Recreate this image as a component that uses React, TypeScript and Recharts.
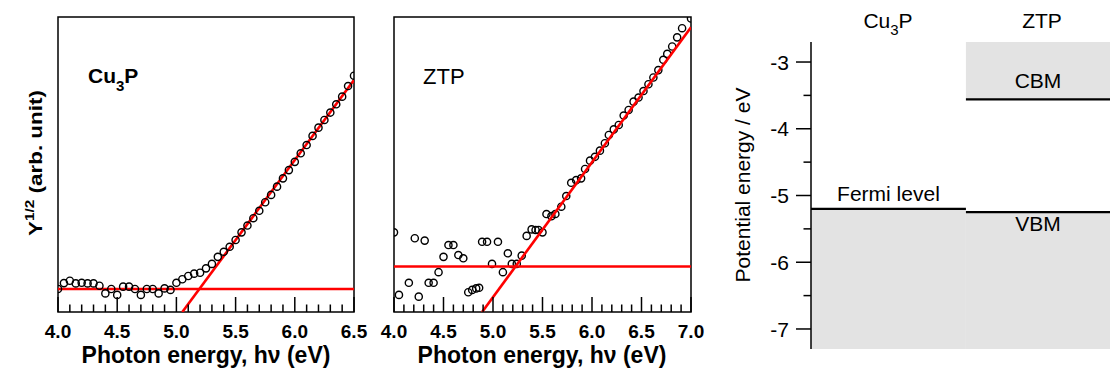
import React from 'react';
import {
  ComposedChart,
  Scatter,
  Line,
  XAxis,
  YAxis,
  ReferenceArea,
  ReferenceLine,
} from 'recharts';

const FONT = "'Liberation Sans', Arial, Helvetica, sans-serif";
const RED = '#ff0000';
const BAND_GRAY = '#e3e3e3';

// ---- Cu3P photoelectron yield, Y^1/2 (arb. unit) vs photon energy (eV)
const cu3pPhotonEnergy = [
  4.0, 4.05, 4.1, 4.15, 4.2, 4.25, 4.3, 4.35, 4.4, 4.45, 4.5, 4.55, 4.6, 4.65, 4.7, 4.75, 4.8,
  4.85, 4.9, 4.95, 5.0, 5.05, 5.1, 5.15, 5.2, 5.25, 5.3, 5.35, 5.4, 5.45, 5.5, 5.55, 5.6, 5.65,
  5.7, 5.75, 5.8, 5.85, 5.9, 5.95, 6.0, 6.05, 6.1, 6.15, 6.2, 6.25, 6.3, 6.35, 6.4, 6.45, 6.5,
];
const cu3pYieldRoot = [
  7.8, 9.8, 10.6, 9.7, 9.9, 9.7, 9.7, 8.9, 6.3, 7.8, 5.8, 8.6, 8.6, 7.8, 5.8, 7.8, 7.8,
  6.3, 8.0, 7.5, 9.9, 11.1, 12.2, 13.0, 13.3, 14.8, 16.3, 18.7, 20.4, 22.1, 24.4, 27.0, 29.3, 31.8,
  34.3, 37.2, 39.7, 42.5, 45.3, 48.1, 50.9, 53.8, 56.6, 59.7, 62.5, 65.1, 67.6, 70.4, 73.0, 76.6, 80.1,
];
const cu3pBaselineEnergy = [4.0, 6.5];
const cu3pBaselineValue = [7.8, 7.8];
const cu3pFitEnergy = [5.05, 6.5];
const cu3pFitValue = [0, 78.6];
const cu3pAxisTicks = [
  4.0, 4.1, 4.2, 4.3, 4.4, 4.5, 4.6, 4.7, 4.8, 4.9, 5.0, 5.1, 5.2, 5.3, 5.4, 5.5, 5.6, 5.7, 5.8,
  5.9, 6.0, 6.1, 6.2, 6.3, 6.4, 6.5,
];
const cu3pLabelledTicks = [4.0, 4.5, 5.0, 5.5, 6.0, 6.5];

// ---- ZTP photoelectron yield
const ztpPhotonEnergy = [
  4.0, 4.05, 4.15, 4.21, 4.25, 4.31, 4.35, 4.4, 4.45, 4.5, 4.55, 4.6, 4.65, 4.7, 4.75, 4.79,
  4.83, 4.86, 4.89, 4.94, 4.99, 5.05, 5.1, 5.15, 5.19, 5.24, 5.29, 5.34, 5.39, 5.43, 5.46, 5.5,
  5.54, 5.59, 5.63, 5.69, 5.74, 5.79, 5.84, 5.89, 5.93, 5.98, 6.03, 6.08, 6.13, 6.17, 6.22, 6.27,
  6.32, 6.37, 6.42, 6.47, 6.52, 6.57, 6.62, 6.67, 6.72, 6.76, 6.81, 6.86, 6.91, 7.0,
];
const ztpYieldRoot = [
  27.0, 5.8, 9.9, 25.0, 5.2, 24.2, 9.9, 9.9, 13.5, 18.7, 22.7, 22.7, 19.3, 18.2, 6.7, 7.5,
  8.0, 8.2, 23.8, 23.8, 16.3, 23.8, 13.5, 19.9, 16.3, 16.3, 19.1, 25.8, 28.0, 27.8, 27.8, 27.0,
  33.2, 32.5, 33.2, 35.7, 39.3, 43.8, 44.7, 45.3, 48.5, 51.3, 52.6, 54.7, 57.2, 60.0, 61.9, 63.4,
  66.6, 68.5, 71.3, 72.7, 74.9, 77.2, 79.5, 82.0, 85.5, 87.5, 90.0, 93.1, 96.2, 99.5,
];
const ztpBaselineEnergy = [4.0, 7.0];
const ztpBaselineValue = [15.4, 15.4];
const ztpFitEnergy = [4.89, 7.0];
const ztpFitValue = [0, 96.5];
const ztpAxisTicks = [
  4.0, 4.1, 4.2, 4.3, 4.4, 4.5, 4.6, 4.7, 4.8, 4.9, 5.0, 5.1, 5.2, 5.3, 5.4, 5.5, 5.6, 5.7, 5.8,
  5.9, 6.0, 6.1, 6.2, 6.3, 6.4, 6.5, 6.6, 6.7, 6.8, 6.9, 7.0,
];
const ztpLabelledTicks = [4.0, 4.5, 5.0, 5.5, 6.0, 6.5, 7.0];

const yieldRange = [0, 100];

// ---- Energy level diagram (eV vs vacuum)
const energyDomain = [-7.3, -2.7];
const energyTicks = [-7, -6.5, -6, -5.5, -5, -4.5, -4, -3.5, -3];
const energyLabelledTicks = [-7, -6, -5, -4, -3];
const cu3pColumn = [0, 1];
const ztpColumn = [1, 2];
const columnDomain = [0, 1.93];
const cu3pFermiLevel = -5.2;
const ztpCbm = -3.56;
const ztpVbm = -5.25;

const toRows = (xs: number[], ys: number[]) => xs.map((x, i) => ({ x, y: ys[i] }));

const isIn = (list: number[], v: number) => list.some((m) => Math.abs(m - v) < 1e-6);

const makeBottomTick = (labelled: number[]) => (props: any) => {
  const { x, y, payload } = props;
  const v = Number(payload.value);
  const major = isIn(labelled, v);
  return (
    <g>
      <line x1={x} x2={x} y1={y} y2={y - (major ? 15 : 7.5)} stroke="#000" strokeWidth={1.5} />
      {major && (
        <text
          x={x}
          y={y + 26}
          textAnchor="middle"
          fontFamily={FONT}
          fontWeight="bold"
          fontSize={19}
          fill="#000"
        >
          {v.toFixed(1)}
        </text>
      )}
    </g>
  );
};

const energyTick = (props: any) => {
  const { x, y, payload } = props;
  const v = Number(payload.value);
  const major = isIn(energyLabelledTicks, v);
  return (
    <g>
      <line x1={x - (major ? 15 : 7.5)} x2={x} y1={y} y2={y} stroke="#000" strokeWidth={1.5} />
      {major && (
        <text x={x - 22} y={y} dy="0.36em" textAnchor="end" fontFamily={FONT} fontSize={21} fill="#000">
          {String(v)}
        </text>
      )}
    </g>
  );
};

const ring = (props: any) => {
  const { cx, cy } = props;
  if (cx == null || cy == null) return <g />;
  return <circle cx={cx} cy={cy} r={3.6} fill="none" stroke="#000" strokeWidth={1.4} />;
};

type PanelProps = {
  left: number;
  width: number;
  marginLeft: number;
  marginRight: number;
  rows: { x: number; y: number }[];
  domain: number[];
  ticks: number[];
  labelled: number[];
  baseline: { x: number; y: number }[];
  fit: { x: number; y: number }[];
  linesOnTop: boolean;
};

function YieldPanel(p: PanelProps) {
  const z = p.linesOnTop ? 700 : 400;
  const lines = [
    <Line
      key="baseline"
      data={p.baseline}
      dataKey="y"
      type="linear"
      stroke={RED}
      strokeWidth={2.6}
      dot={false}
      activeDot={false}
      isAnimationActive={false}
      zIndex={z}
    />,
    <Line
      key="fit"
      data={p.fit}
      dataKey="y"
      type="linear"
      stroke={RED}
      strokeWidth={2.6}
      dot={false}
      activeDot={false}
      isAnimationActive={false}
      zIndex={z}
    />,
  ];
  return (
    <div style={{ position: 'absolute', left: p.left, top: 0 }}>
      <ComposedChart
        width={p.width}
        height={372}
        margin={{ top: 17, right: p.marginRight, bottom: 0, left: p.marginLeft }}
      >
        <XAxis
          type="number"
          dataKey="x"
          domain={p.domain}
          ticks={p.ticks}
          interval={0}
          tick={makeBottomTick(p.labelled)}
          tickLine={false}
          axisLine={false}
          tickSize={0}
          tickMargin={0}
          height={60}
          allowDataOverflow
        />
        <YAxis type="number" dataKey="y" domain={yieldRange} hide allowDataOverflow />
        <ReferenceArea
          x1={p.domain[0]}
          x2={p.domain[1]}
          y1={yieldRange[0]}
          y2={yieldRange[1]}
          fill="none"
          stroke="#000"
          strokeWidth={1.5}
          ifOverflow="visible"
        />
        {!p.linesOnTop && lines}
        <Scatter data={p.rows} dataKey="y" shape={ring} isAnimationActive={false} />
        {p.linesOnTop && lines}
      </ComposedChart>
    </div>
  );
}

export default function App() {
  return (
    <div style={{ position: 'absolute', left: 0, top: 0, width: 1110, height: 372, background: '#fff' }}>
      <YieldPanel
        left={0}
        width={370}
        marginLeft={58}
        marginRight={16}
        rows={toRows(cu3pPhotonEnergy, cu3pYieldRoot)}
        domain={[4.0, 6.5]}
        ticks={cu3pAxisTicks}
        labelled={cu3pLabelledTicks}
        baseline={toRows(cu3pBaselineEnergy, cu3pBaselineValue)}
        fit={toRows(cu3pFitEnergy, cu3pFitValue)}
        linesOnTop={false}
      />
      <YieldPanel
        left={370}
        width={340}
        marginLeft={24}
        marginRight={19}
        rows={toRows(ztpPhotonEnergy, ztpYieldRoot)}
        domain={[4.0, 7.0]}
        ticks={ztpAxisTicks}
        labelled={ztpLabelledTicks}
        baseline={toRows(ztpBaselineEnergy, ztpBaselineValue)}
        fit={toRows(ztpFitEnergy, ztpFitValue)}
        linesOnTop={true}
      />

      <div style={{ position: 'absolute', left: 720, top: 0 }}>
        <ComposedChart width={390} height={372} margin={{ top: 42, right: 0, bottom: 23, left: 31 }}>
          <XAxis type="number" dataKey="x" domain={columnDomain} hide allowDataOverflow />
          <YAxis
            type="number"
            domain={energyDomain}
            ticks={energyTicks}
            interval={0}
            width={60}
            tick={energyTick}
            tickLine={false}
            tickSize={0}
            tickMargin={0}
            axisLine={{ stroke: '#000', strokeWidth: 1.5 }}
            allowDataOverflow
          />
          <ReferenceArea
            x1={cu3pColumn[0]}
            x2={cu3pColumn[1]}
            y1={energyDomain[0]}
            y2={cu3pFermiLevel}
            fill={BAND_GRAY}
            fillOpacity={1}
            stroke="none"
            ifOverflow="hidden"
          />
          <ReferenceArea
            x1={ztpColumn[0]}
            x2={ztpColumn[1]}
            y1={ztpCbm}
            y2={energyDomain[1]}
            fill={BAND_GRAY}
            fillOpacity={1}
            stroke="none"
            ifOverflow="hidden"
          />
          <ReferenceArea
            x1={ztpColumn[0]}
            x2={ztpColumn[1]}
            y1={energyDomain[0]}
            y2={ztpVbm}
            fill={BAND_GRAY}
            fillOpacity={1}
            stroke="none"
            ifOverflow="hidden"
          />
          <ReferenceLine
            segment={[
              { x: cu3pColumn[0], y: cu3pFermiLevel },
              { x: cu3pColumn[1], y: cu3pFermiLevel },
            ]}
            stroke="#000"
            strokeWidth={2.2}
            ifOverflow="hidden"
            label={{ value: 'Fermi level', position: 'top', offset: 8, fill: '#000', fontSize: 21, fontFamily: FONT }}
          />
          <ReferenceLine
            segment={[
              { x: ztpColumn[0], y: ztpCbm },
              { x: columnDomain[1], y: ztpCbm },
            ]}
            stroke="#000"
            strokeWidth={2.2}
            ifOverflow="hidden"
            label={{ value: 'CBM', position: 'top', offset: 11, fill: '#000', fontSize: 21, fontFamily: FONT }}
          />
          <ReferenceLine
            segment={[
              { x: ztpColumn[0], y: ztpVbm },
              { x: columnDomain[1], y: ztpVbm },
            ]}
            stroke="#000"
            strokeWidth={2.2}
            ifOverflow="hidden"
            label={{ value: 'VBM', position: 'bottom', offset: 4, fill: '#000', fontSize: 21, fontFamily: FONT }}
          />
        </ComposedChart>
      </div>

      <svg
        width={1110}
        height={372}
        style={{ position: 'absolute', left: 0, top: 0, pointerEvents: 'none' }}
        fontFamily={FONT}
        fill="#000"
      >
        {/* yield panels: shared y title */}
        <g transform="translate(42 163) rotate(-90) scale(1.18 1)">
          <text x={0} y={0} textAnchor="middle" fontWeight="bold" fontSize={19}>
            Y
            <tspan fontSize={13} dy={-8}>
              1/2
            </tspan>
            <tspan fontSize={19} dy={8}>
              {'\u00a0(arb. unit)'}
            </tspan>
          </text>
        </g>

        <text x={88} y={83} fontWeight="bold" fontSize={21}>
          Cu
          <tspan fontSize={15} dy={8}>
            3
          </tspan>
          <tspan fontSize={21} dy={-8}>
            P
          </tspan>
        </text>
        <text x={423} y={84} fontSize={22}>
          ZTP
        </text>

        <text x={206} y={363} textAnchor="middle" fontWeight="bold" fontSize={23}>
          Photon energy, hν (eV)
        </text>
        <text x={542} y={363} textAnchor="middle" fontWeight="bold" fontSize={23}>
          Photon energy, hν (eV)
        </text>

        {/* energy level diagram */}
        <text x={888} y={28} textAnchor="middle" fontSize={21}>
          Cu
          <tspan fontSize={15} dy={7}>
            3
          </tspan>
          <tspan fontSize={21} dy={-7}>
            P
          </tspan>
        </text>
        <text x={1042} y={28} textAnchor="middle" fontSize={21}>
          ZTP
        </text>
        <text x={0} y={0} transform="translate(750 185) rotate(-90)" textAnchor="middle" fontSize={21}>
          Potential energy / eV
        </text>
      </svg>
    </div>
  );
}
